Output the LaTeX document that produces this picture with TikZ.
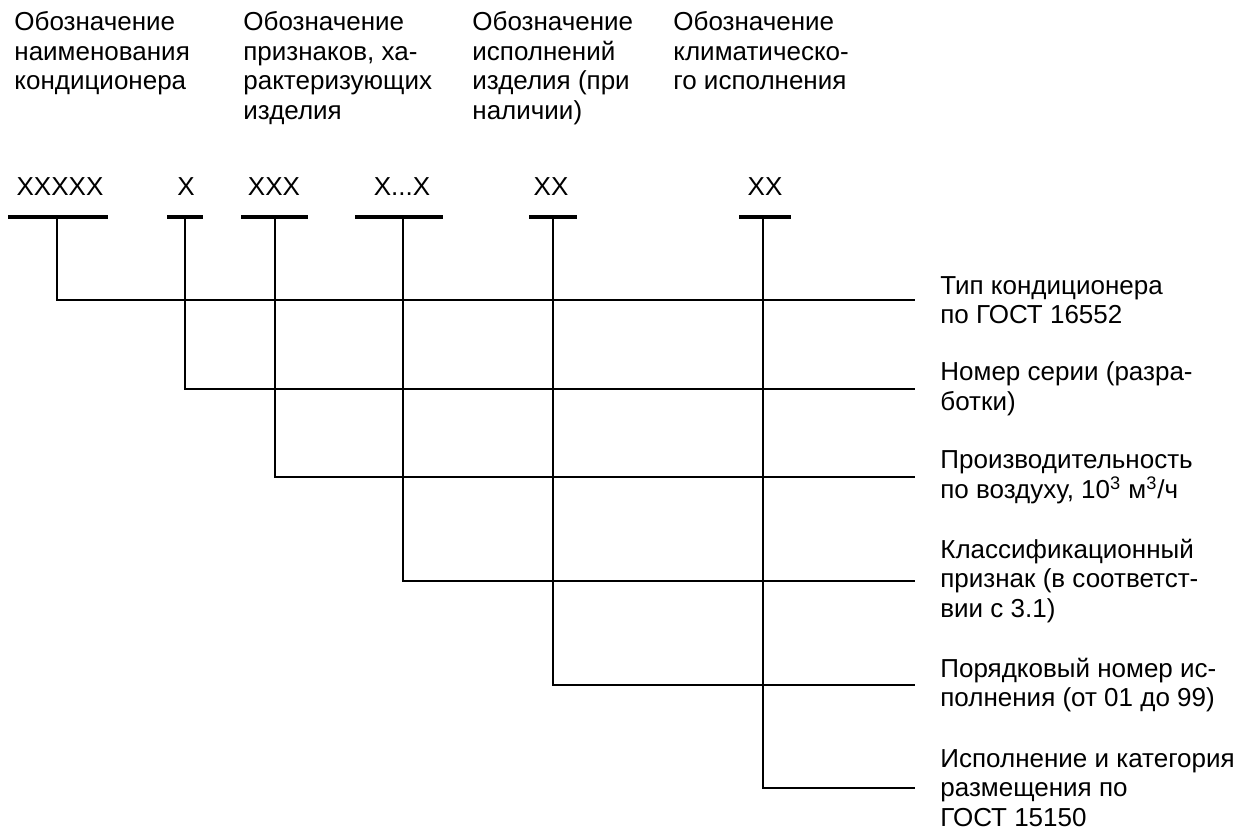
\documentclass[tikz,border=0pt]{standalone}
\usepackage{fontspec}
\setmainfont{Liberation Sans}
\usetikzlibrary{positioning}
\tikzset{head/.style={anchor=north west, align=left, inner sep=0pt,
    font=\fontsize{13pt}{14.8pt}\selectfont},
  codetxt/.style={anchor=base, inner sep=0pt, font=\fontsize{13pt}{14.8pt}\selectfont},
  lbl/.style={anchor=west, align=left, inner xsep=12.5pt, inner ysep=0pt,
    font=\fontsize{13pt}{14.8pt}\selectfont},
  bar/.style={line width=1.6pt},
  conn/.style={line width=1.1pt}}

\begin{document}
\begin{tikzpicture}[x=0.5pt,y=-0.5pt]
\useasboundingbox (0,0) rectangle (1249,834);
% column headings
\node[head] (h1) at (14,11) {Обозначение\\наименования\\кондиционера};
\node[head] (h2) at (243,11) {Обозначение\\признаков, ха-\\рактеризующих\\изделия};
\node[head] (h3) at (472,11) {Обозначение\\исполнений\\изделия (при\\наличии)};
\node[head] (h4) at (673,11) {Обозначение\\климатическо-\\го исполнения};
% code positions
\node[codetxt] (c1) at (60,196) {XXXXX};
\node[codetxt] (c2) at (186,196) {X};
\node[codetxt] (c3) at (274,196) {XXX};
\node[codetxt] (c4) at (402,196) {X...X};
\node[codetxt] (c5) at (551,196) {XX};
\node[codetxt] (c6) at (765,196) {XX};
\draw[bar] (8,217) -- (108,217);
\draw[bar] (167,217) -- (203,217);
\draw[bar] (241,217) -- (308,217);
\draw[bar] (355,217) -- (443,217);
\draw[bar] (529,217) -- (577,217);
\draw[bar] (739,217) -- (791,217);
\coordinate (t1) at (57,217);
\coordinate (t2) at (185,217);
\coordinate (t3) at (275,217);
\coordinate (t4) at (403,217);
\coordinate (t5) at (553,217);
\coordinate (t6) at (763,217);
% explanations
\node[lbl] (l1) at (915,300) {Тип кондиционера\\по ГОСТ 16552};
\node[lbl] (l2) at (915,389) {Номер серии (разра-\\ботки)};
\node[lbl] (l3) at (915,477) {Производительность\\по воздуху, 10\textsuperscript{3} м\textsuperscript{3}/ч};
\node[lbl] (l4) at (915,581) {Классификационный\\признак (в соответст-\\вии с 3.1)};
\node[lbl] (l5) at (915,685) {Порядковый номер ис-\\полнения (от 01 до 99)};
\node[lbl] (l6) at (915,788) {Исполнение и категория\\размещения по\\ГОСТ 15150};
\draw[conn] (t1) |- (l1.west);
\draw[conn] (t2) |- (l2.west);
\draw[conn] (t3) |- (l3.west);
\draw[conn] (t4) |- (l4.west);
\draw[conn] (t5) |- (l5.west);
\draw[conn] (t6) |- (l6.west);
\end{tikzpicture}
\end{document}
